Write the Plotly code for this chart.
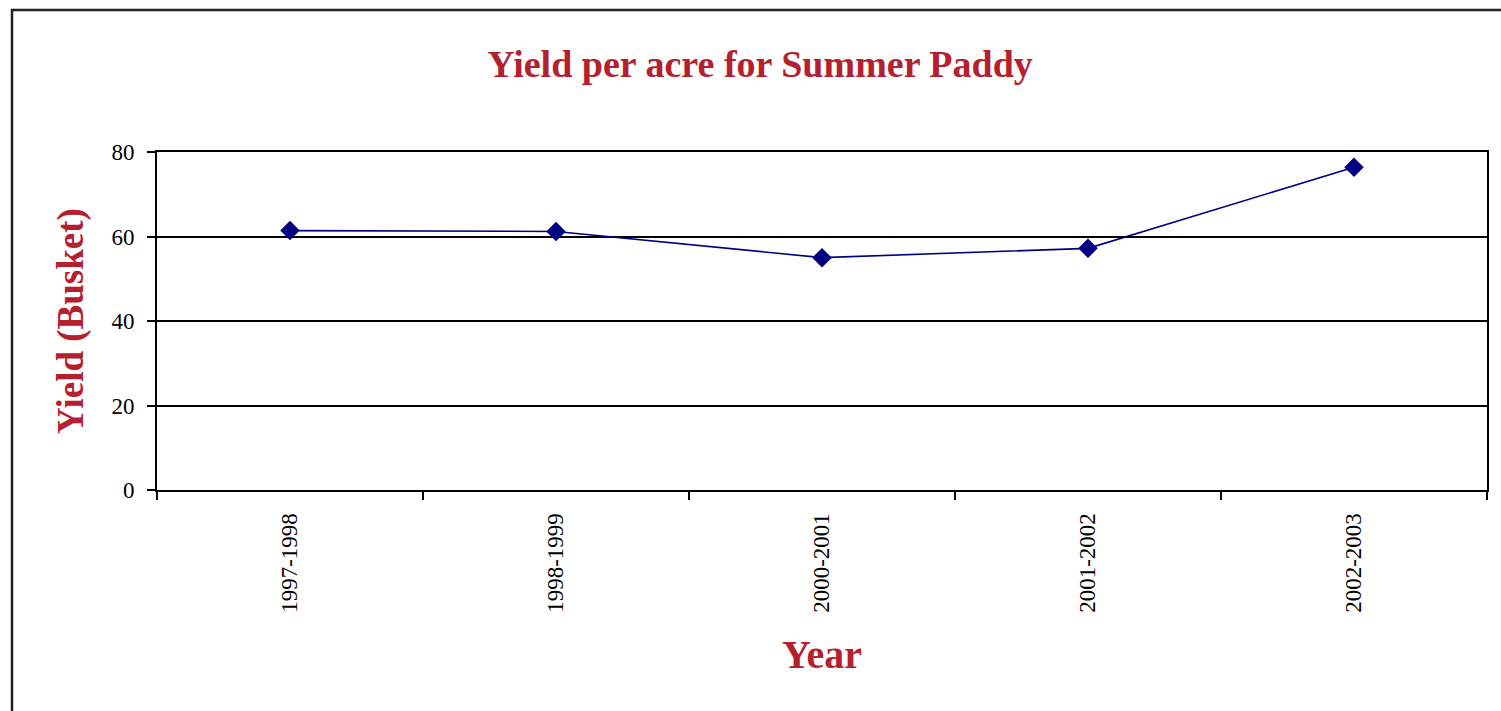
import plotly.graph_objects as go

# Summer paddy yield per acre by season
years = ["1997-1998", "1998-1999", "2000-2001", "2001-2002", "2002-2003"]
yield_busket = [61.4, 61.2, 55.0, 57.2, 76.4]

y_ticks = [0, 20, 40, 60, 80]

red = "#B5202E"
navy = "#000080"
serif = "Liberation Serif, Times New Roman, serif"

fig = go.Figure()
fig.add_trace(go.Scatter(
    x=years,
    y=yield_busket,
    mode="lines+markers",
    line=dict(color=navy, width=1.6),
    marker=dict(symbol="diamond", size=15, color=navy),
    showlegend=False,
))

L, R, T, B = 157, 14, 152, 221
W, H = 1501, 711
pw, ph = W - L - R, H - T - B

# outer chart frame, expressed in plot-area paper units
fig.add_shape(
    type="rect", xref="paper", yref="paper",
    x0=(12 - L) / pw, x1=(W + 5 - L) / pw,
    y0=(H - B - (H + 5)) / ph, y1=(H - B - 10) / ph,
    line=dict(color="#222222", width=2.5), fillcolor="rgba(0,0,0,0)",
    layer="below",
)

fig.update_layout(
    width=W, height=H,
    margin=dict(l=L, r=R, t=T, b=B),
    paper_bgcolor="white", plot_bgcolor="white",
    title=dict(
        text="<b>Yield per acre for Summer Paddy</b>",
        x=(760 - L) / pw, xref="paper", xanchor="center",
        y=1 - 64 / H, yref="container", yanchor="middle",
        font=dict(family=serif, size=38, color=red),
    ),
    xaxis=dict(
        type="category",
        range=[-0.5, len(years) - 0.5],
        tickangle=-90,
        tickfont=dict(family=serif, size=23, color="black"),
        ticks="outside", ticklen=8, tickwidth=1.5, tickcolor="black",
        tickson="boundaries",
        ticklabelstandoff=12,
        showline=True, linecolor="black", linewidth=2, mirror=True,
        showgrid=False,
        title=dict(text="<b>Year</b>", font=dict(family=serif, size=40, color=red), standoff=28),
    ),
    yaxis=dict(
        range=[0, 80],
        tickvals=y_ticks,
        tickfont=dict(family=serif, size=23, color="black"),
        ticks="outside", ticklen=8, tickwidth=1.5, tickcolor="black",
        ticklabelstandoff=8,
        showline=True, linecolor="black", linewidth=2, mirror=True,
        showgrid=True, gridcolor="black", gridwidth=1.5,
        zeroline=False,
        title=dict(text="<b>Yield (Busket)</b>", font=dict(family=serif, size=37, color=red), standoff=16),
    ),
)

fig.write_html("out.html")
